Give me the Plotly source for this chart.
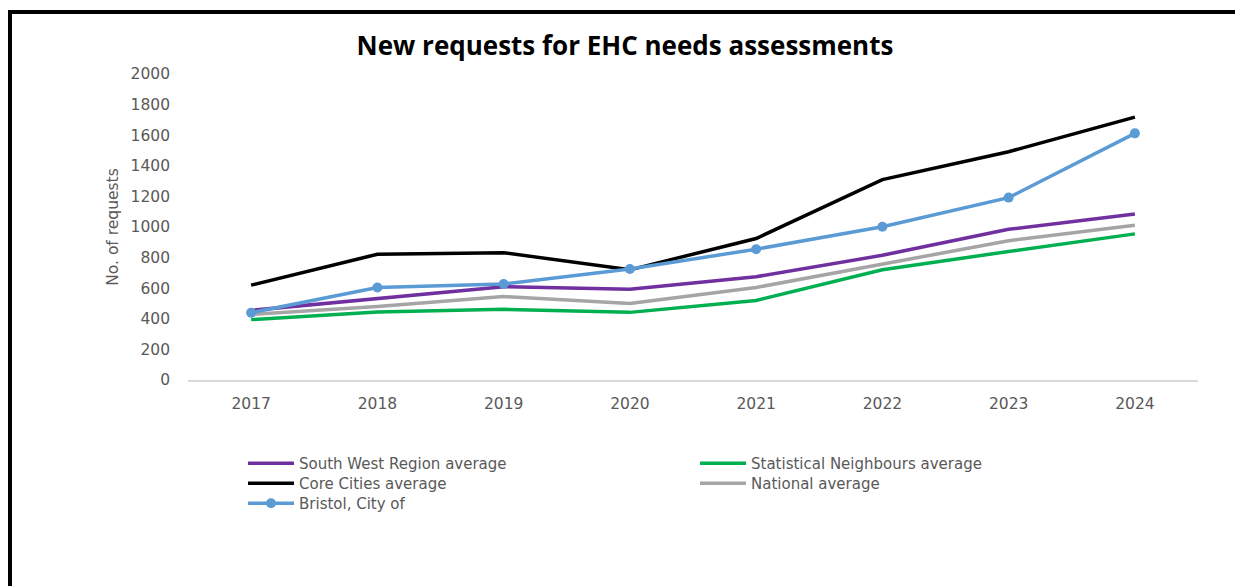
import plotly.graph_objects as go

# Financial years (x categories)
years = ["2017", "2018", "2019", "2020", "2021", "2022", "2023", "2024"]

# New requests for EHC needs assessments per comparator
south_west = [455, 530, 610, 593, 675, 815, 985, 1085]
stat_neighbours = [395, 445, 462, 442, 520, 720, 840, 955]
core_cities = [620, 822, 832, 720, 925, 1310, 1492, 1718]
national = [428, 480, 545, 500, 605, 755, 910, 1012]
bristol = [440, 605, 627, 726, 855, 1002, 1192, 1612]

y_ticks = [0, 200, 400, 600, 800, 1000, 1200, 1400, 1600, 1800, 2000]

W, H = 1235, 586
L, R, T, B = 188, 37, 74, 206
PW, PH = W - L - R, H - T - B


def px_x(p):
    return (p - L) / PW


def px_y(p):
    return (H - B - p) / PH


TITLE_FONT = "Open Sans"
FONT = "DejaVu Sans"
GREY = "#595959"
LEG_SIZE = 15

fig = go.Figure()

# name, values, colour, markers, legend id, legend left (px), legend row centre (px)
series = [
    ("South West Region average", south_west, "#7030A0", False, "legend", 243, 462),
    ("Statistical Neighbours average", stat_neighbours, "#00B050", False, "legend2", 695, 462),
    ("Core Cities average", core_cities, "#000000", False, "legend3", 243, 482),
    ("National average", national, "#A5A5A5", False, "legend4", 695, 482),
    ("Bristol, City of", bristol, "#5B9BD5", True, "legend5", 243, 502),
]

legend_layouts = {}
for name, vals, color, markers, leg, lx, ly in series:
    fig.add_trace(go.Scatter(
        x=years, y=vals, name=name,
        mode="lines+markers" if markers else "lines",
        line=dict(color=color, width=3.5),
        marker=dict(size=10, color=color),
        legend=leg,
    ))
    legend_layouts[leg] = dict(
        orientation="v",
        x=px_x(lx), xanchor="left",
        y=px_y(ly - 15), yanchor="top",
        bgcolor="rgba(0,0,0,0)",
        font=dict(family=FONT, size=LEG_SIZE, color=GREY),
        itemwidth=46,
    )

fig.update_layout(
    width=W, height=H,
    margin=dict(l=L, r=R, t=T, b=B),
    paper_bgcolor="white",
    plot_bgcolor="white",
    title=dict(
        text="<b>New requests for EHC needs assessments</b>",
        font=dict(family=TITLE_FONT, size=26, color="#000000"),
        xref="container", yref="container",
        x=625 / W, xanchor="center",
        y=(H - 46) / H, yanchor="middle",
    ),
    xaxis=dict(
        type="category",
        categoryorder="array", categoryarray=years,
        range=[-0.5, len(years) - 0.5],
        showgrid=False, zeroline=False,
        showline=True, linecolor="#D9D9D9", linewidth=1.5,
        ticks="", ticklabelstandoff=9,
        tickfont=dict(family=FONT, size=15.5, color=GREY),
    ),
    yaxis=dict(
        range=[0, 2000],
        tickvals=y_ticks,
        showgrid=False, zeroline=False, showline=False,
        ticks="", ticklabelstandoff=17,
        tickfont=dict(family=FONT, size=15.5, color=GREY),
        title=dict(text="No. of requests", standoff=8,
                   font=dict(family=FONT, size=15.5, color=GREY)),
    ),
    showlegend=True,
    **legend_layouts,
)

# Frame lines along the top and left edges
fig.add_shape(type="line", xref="paper", yref="paper",
              x0=px_x(8), x1=px_x(1240), y0=px_y(12), y1=px_y(12),
              line=dict(color="black", width=4))
fig.add_shape(type="line", xref="paper", yref="paper",
              x0=px_x(10), x1=px_x(10), y0=px_y(10), y1=px_y(590),
              line=dict(color="black", width=4))

fig.write_html("out.html")
